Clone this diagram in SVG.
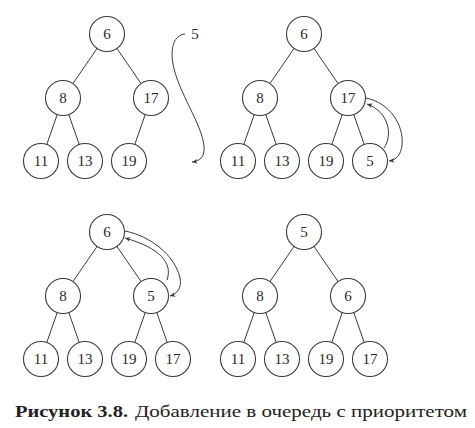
<svg xmlns="http://www.w3.org/2000/svg" width="475" height="428" viewBox="0 0 475 428">
<style>
.e{stroke:#3a3a3a;stroke-width:1;fill:none}
.n circle{fill:#fff;stroke:#3a3a3a;stroke-width:1.1}
.n text,.lbl{font-family:"Liberation Serif",serif;font-size:15px;fill:#2a2a2a;text-anchor:middle}
.a{stroke:#3a3a3a;stroke-width:1;fill:none;marker-end:url(#ah)}
.cap{font-family:"Liberation Serif",serif;font-size:17px;fill:#222}
</style>
<defs>
<marker id="ah" viewBox="0 0 8 8" refX="7" refY="4" markerWidth="6" markerHeight="6" orient="auto" markerUnits="userSpaceOnUse">
<path d="M0,0.8 L7,4 L0,7.2 L1.8,4 Z" fill="#3a3a3a"/>
</marker>
</defs>
<g id="connectors">
<!-- tree 1 -->
<line class="e" x1="107" y1="34" x2="63" y2="98"/>
<line class="e" x1="107" y1="34" x2="151" y2="98"/>
<line class="e" x1="63" y1="98" x2="41" y2="161"/>
<line class="e" x1="63" y1="98" x2="85" y2="161"/>
<line class="e" x1="151" y1="98" x2="129" y2="161"/>
<!-- tree 2 -->
<line class="e" x1="304" y1="34" x2="260" y2="98"/>
<line class="e" x1="304" y1="34" x2="348" y2="98"/>
<line class="e" x1="260" y1="98" x2="238" y2="161"/>
<line class="e" x1="260" y1="98" x2="282" y2="161"/>
<line class="e" x1="348" y1="98" x2="326" y2="161"/>
<line class="e" x1="348" y1="98" x2="370" y2="161"/>
<!-- tree 3 -->
<line class="e" x1="107" y1="232" x2="63" y2="296"/>
<line class="e" x1="107" y1="232" x2="151" y2="296"/>
<line class="e" x1="63" y1="296" x2="41" y2="359"/>
<line class="e" x1="63" y1="296" x2="85" y2="359"/>
<line class="e" x1="151" y1="296" x2="129" y2="359"/>
<line class="e" x1="151" y1="296" x2="173" y2="359"/>
<!-- tree 4 -->
<line class="e" x1="304" y1="232" x2="260" y2="296"/>
<line class="e" x1="304" y1="232" x2="348" y2="296"/>
<line class="e" x1="260" y1="296" x2="238" y2="359"/>
<line class="e" x1="260" y1="296" x2="282" y2="359"/>
<line class="e" x1="348" y1="296" x2="326" y2="359"/>
<line class="e" x1="348" y1="296" x2="370" y2="359"/>
<!-- curved arrows -->
<path class="a" d="M185,34 C174,35 170,48 173,64 C178,92 202,124 204,146 C205,157 200,161 192,162"/>
<path class="a" d="M384,148 C393,135 389,112 367,104"/>
<path class="a" d="M366,98 C390,103 404,125 402,145 C401,155 396,160 389,161"/>
<path class="a" d="M167,280 C173,263 160,248 125,238"/>
<path class="a" d="M125,231 C150,236 175,255 180,278 C182,288 177,294 170,296"/>
</g>
<text class="lbl" x="195" y="39">5</text>
<g id="t1-6" class="n"><circle cx="107" cy="34" r="17.5"/><text x="107" y="39">6</text></g>
<g id="t1-8" class="n"><circle cx="63" cy="98" r="17.5"/><text x="63" y="103">8</text></g>
<g id="t1-17" class="n"><circle cx="151" cy="98" r="17.5"/><text x="151" y="103">17</text></g>
<g id="t1-11" class="n"><circle cx="41" cy="161" r="17.5"/><text x="41" y="166">11</text></g>
<g id="t1-13" class="n"><circle cx="85" cy="161" r="17.5"/><text x="85" y="166">13</text></g>
<g id="t1-19" class="n"><circle cx="129" cy="161" r="17.5"/><text x="129" y="166">19</text></g>

<g id="t2-6" class="n"><circle cx="304" cy="34" r="17.5"/><text x="304" y="39">6</text></g>
<g id="t2-8" class="n"><circle cx="260" cy="98" r="17.5"/><text x="260" y="103">8</text></g>
<g id="t2-17" class="n"><circle cx="348" cy="98" r="17.5"/><text x="348" y="103">17</text></g>
<g id="t2-11" class="n"><circle cx="238" cy="161" r="17.5"/><text x="238" y="166">11</text></g>
<g id="t2-13" class="n"><circle cx="282" cy="161" r="17.5"/><text x="282" y="166">13</text></g>
<g id="t2-19" class="n"><circle cx="326" cy="161" r="17.5"/><text x="326" y="166">19</text></g>
<g id="t2-5" class="n"><circle cx="370" cy="161" r="17.5"/><text x="370" y="166">5</text></g>

<g id="t3-6" class="n"><circle cx="107" cy="232" r="17.5"/><text x="107" y="237">6</text></g>
<g id="t3-8" class="n"><circle cx="63" cy="296" r="17.5"/><text x="63" y="301">8</text></g>
<g id="t3-5" class="n"><circle cx="151" cy="296" r="17.5"/><text x="151" y="301">5</text></g>
<g id="t3-11" class="n"><circle cx="41" cy="359" r="17.5"/><text x="41" y="364">11</text></g>
<g id="t3-13" class="n"><circle cx="85" cy="359" r="17.5"/><text x="85" y="364">13</text></g>
<g id="t3-19" class="n"><circle cx="129" cy="359" r="17.5"/><text x="129" y="364">19</text></g>
<g id="t3-17" class="n"><circle cx="173" cy="359" r="17.5"/><text x="173" y="364">17</text></g>

<g id="t4-5" class="n"><circle cx="304" cy="232" r="17.5"/><text x="304" y="237">5</text></g>
<g id="t4-8" class="n"><circle cx="260" cy="296" r="17.5"/><text x="260" y="301">8</text></g>
<g id="t4-6" class="n"><circle cx="348" cy="296" r="17.5"/><text x="348" y="301">6</text></g>
<g id="t4-11" class="n"><circle cx="238" cy="359" r="17.5"/><text x="238" y="364">11</text></g>
<g id="t4-13" class="n"><circle cx="282" cy="359" r="17.5"/><text x="282" y="364">13</text></g>
<g id="t4-19" class="n"><circle cx="326" cy="359" r="17.5"/><text x="326" y="364">19</text></g>
<g id="t4-17" class="n"><circle cx="370" cy="359" r="17.5"/><text x="370" y="364">17</text></g>

<text class="cap" x="15" y="417" font-weight="bold" textLength="113" lengthAdjust="spacingAndGlyphs">Рисунок 3.8.</text>
<text class="cap" x="135" y="417" textLength="332" lengthAdjust="spacingAndGlyphs">Добавление в очередь с приоритетом</text>
</svg>
